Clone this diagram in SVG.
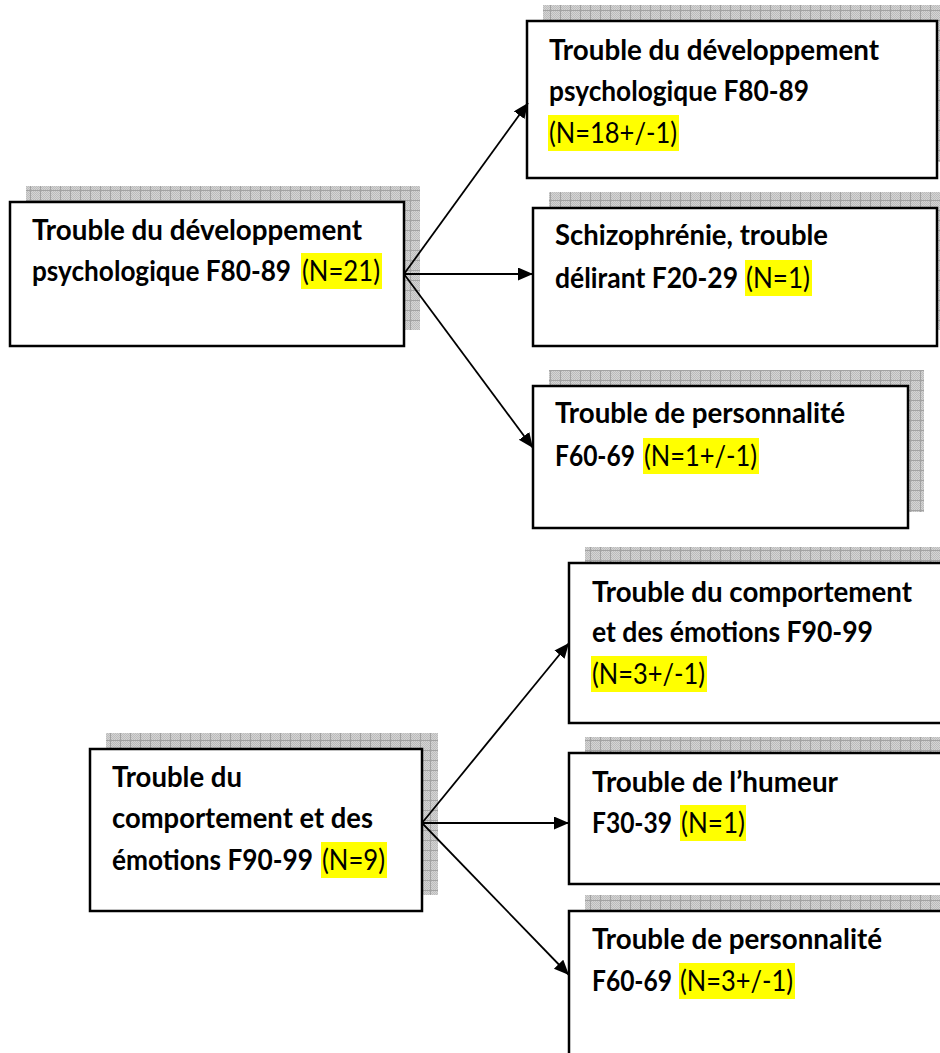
<svg xmlns="http://www.w3.org/2000/svg" width="940" height="1053" viewBox="0 0 940 1053">
<style>
.shadow{fill:url(#grid);}
.box{fill:#ffffff;stroke:#000000;stroke-width:2.5;}
.hl{fill:#ffff00;}
.b{font-family:Lato,"Liberation Sans",sans-serif;font-weight:700;font-size:28px;fill:#000;}
.r{font-family:Lato,"Liberation Sans",sans-serif;font-weight:400;font-size:28px;fill:#000;}
.conn{stroke:#000;stroke-width:1.8;fill:none;marker-end:url(#arrow);}
</style>
<defs>
<pattern id="dither" width="2" height="2" patternUnits="userSpaceOnUse">
<rect width="2" height="2" fill="#d4d4d4"/>
<rect width="1" height="1" fill="#bcbcbc"/>
<rect x="1" y="1" width="1" height="1" fill="#bcbcbc"/>
</pattern>
<pattern id="grid" width="10" height="10" patternUnits="userSpaceOnUse">
<rect width="10" height="10" fill="url(#dither)"/>
<path d="M0.5,0 V10 M0,0.5 H10" stroke="#a2a2a2" stroke-width="1"/>
</pattern>
<marker id="arrow" markerUnits="userSpaceOnUse" markerWidth="16" markerHeight="14" refX="15" refY="6.5" orient="auto">
<path d="M0,0 L15,6.5 L0,13 Z" fill="#000"/>
</marker>
</defs>

<g id="node-dev-src">
<rect class="shadow" x="26" y="186" width="394" height="144"/>
<rect class="box" x="10" y="202" width="394" height="144"/>
<rect class="hl" x="301" y="253" width="81" height="36"/>
<text class="b" x="32" y="240" textLength="330" lengthAdjust="spacingAndGlyphs">Trouble du développement</text>
<text class="b" x="32" y="281" textLength="259" lengthAdjust="spacingAndGlyphs">psychologique F80-89</text>
<text class="r" x="302" y="281" textLength="78" lengthAdjust="spacingAndGlyphs">(N=21)</text>
</g>

<g id="node-dev-dst">
<rect class="shadow" x="543" y="5" width="410" height="157"/>
<rect class="box" x="527" y="21" width="410" height="157"/>
<rect class="hl" x="548" y="115" width="131" height="36"/>
<text class="b" x="549" y="60" textLength="330" lengthAdjust="spacingAndGlyphs">Trouble du développement</text>
<text class="b" x="549" y="101" textLength="260" lengthAdjust="spacingAndGlyphs">psychologique F80-89</text>
<text class="r" x="549" y="143" textLength="128" lengthAdjust="spacingAndGlyphs">(N=18+/-1)</text>
</g>

<g id="node-schizo">
<rect class="shadow" x="549" y="192" width="404" height="138"/>
<rect class="box" x="533" y="208" width="404" height="138"/>
<rect class="hl" x="745" y="260" width="67" height="36"/>
<text class="b" x="555" y="245" textLength="273" lengthAdjust="spacingAndGlyphs">Schizophrénie, trouble</text>
<text class="b" x="555" y="288" textLength="183" lengthAdjust="spacingAndGlyphs">délirant F20-29</text>
<text class="r" x="746" y="288" textLength="64" lengthAdjust="spacingAndGlyphs">(N=1)</text>
</g>

<g id="node-perso1">
<rect class="shadow" x="549" y="370" width="375" height="142"/>
<rect class="box" x="533" y="386" width="375" height="142"/>
<rect class="hl" x="643" y="438" width="116" height="36"/>
<text class="b" x="555" y="423" textLength="290" lengthAdjust="spacingAndGlyphs">Trouble de personnalité</text>
<text class="b" x="555" y="466" textLength="80" lengthAdjust="spacingAndGlyphs">F60-69</text>
<text class="r" x="644" y="466" textLength="113" lengthAdjust="spacingAndGlyphs">(N=1+/-1)</text>
</g>

<g id="node-comp-src">
<rect class="shadow" x="106" y="733" width="332" height="162"/>
<rect class="box" x="90" y="749" width="332" height="162"/>
<rect class="hl" x="321" y="842" width="66" height="36"/>
<text class="b" x="112" y="787" textLength="130" lengthAdjust="spacingAndGlyphs">Trouble du</text>
<text class="b" x="112" y="828" textLength="261" lengthAdjust="spacingAndGlyphs">comportement et des</text>
<text class="b" x="112" y="870" textLength="201" lengthAdjust="spacingAndGlyphs">émotions F90-99</text>
<text class="r" x="322" y="870" textLength="63" lengthAdjust="spacingAndGlyphs">(N=9)</text>
</g>

<g id="node-comp-dst">
<rect class="shadow" x="585" y="547" width="390" height="160"/>
<rect class="box" x="569" y="563" width="390" height="160"/>
<rect class="hl" x="591" y="656" width="116" height="36"/>
<text class="b" x="592" y="602" textLength="320" lengthAdjust="spacingAndGlyphs">Trouble du comportement</text>
<text class="b" x="592" y="642" textLength="281" lengthAdjust="spacingAndGlyphs">et des émotions F90-99</text>
<text class="r" x="592" y="684" textLength="113" lengthAdjust="spacingAndGlyphs">(N=3+/-1)</text>
</g>

<g id="node-humeur">
<rect class="shadow" x="585" y="737" width="390" height="131"/>
<rect class="box" x="569" y="753" width="390" height="131"/>
<rect class="hl" x="680" y="805" width="66" height="36"/>
<text class="b" x="592" y="792" textLength="246" lengthAdjust="spacingAndGlyphs">Trouble de l’humeur</text>
<text class="b" x="592" y="833" textLength="80" lengthAdjust="spacingAndGlyphs">F30-39</text>
<text class="r" x="681" y="833" textLength="64" lengthAdjust="spacingAndGlyphs">(N=1)</text>
</g>

<g id="node-perso2">
<rect class="shadow" x="585" y="895" width="390" height="180"/>
<rect class="box" x="569" y="911" width="390" height="180"/>
<rect class="hl" x="679" y="963" width="116" height="36"/>
<text class="b" x="592" y="949" textLength="290" lengthAdjust="spacingAndGlyphs">Trouble de personnalité</text>
<text class="b" x="592" y="991" textLength="80" lengthAdjust="spacingAndGlyphs">F60-69</text>
<text class="r" x="680" y="991" textLength="113" lengthAdjust="spacingAndGlyphs">(N=3+/-1)</text>
</g>

<g id="connectors">
<line class="conn" x1="404" y1="274" x2="528" y2="103"/>
<line class="conn" x1="404" y1="274" x2="533" y2="274"/>
<line class="conn" x1="404" y1="274" x2="533" y2="448"/>
<line class="conn" x1="422" y1="823" x2="569" y2="643"/>
<line class="conn" x1="422" y1="823" x2="569" y2="823"/>
<line class="conn" x1="422" y1="823" x2="569" y2="975"/>
</g>
</svg>
